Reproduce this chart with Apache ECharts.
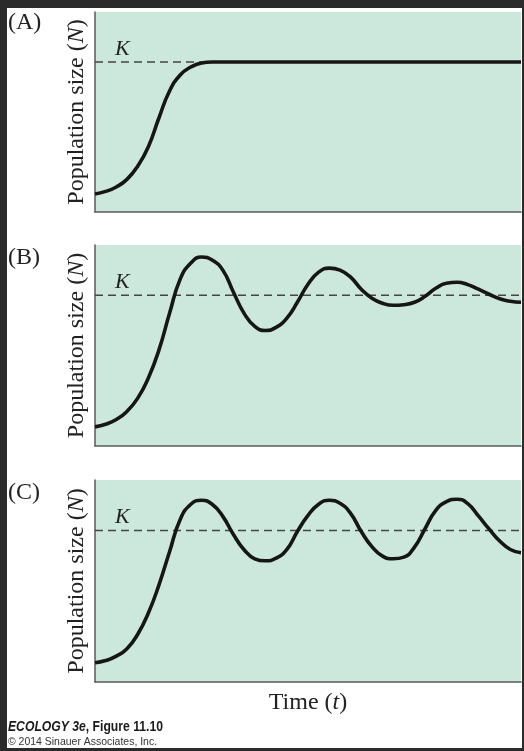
<!DOCTYPE html>
<html>
<head>
<meta charset="utf-8">
<script src="https://cdn.jsdelivr.net/npm/echarts@6/dist/echarts.min.js"></script>
<style>
  html, body { margin: 0; padding: 0; background: #2b2b2b; }
  #frame { position: absolute; left: 0; top: 0; width: 524px; height: 751px; background: #2b2b2b; }
  #chart { position: absolute; left: 7px; top: 8px; width: 515px; height: 740px; background: #fff; }
</style>
</head>
<body>
<div id="frame"><div id="chart"></div></div>
<script>
// carrying capacity
var kValue = 75;

// time steps (0 = left axis, 100 = right edge)
var times = [0, 2.5, 5, 7.5, 10, 12.5, 15, 17.5, 20, 22.5, 25, 27.5, 30, 32.5, 35, 37.5, 40, 42.5, 45, 47.5,
  50, 52.5, 55, 57.5, 60, 62.5, 65, 67.5, 70, 72.5, 75, 77.5, 80, 82.5, 85, 87.5, 90, 92.5, 95, 97.5, 100];

// (A) logistic growth
var popA = [9, 10.3, 12.5, 16.3, 22.8, 32.5, 47, 60.5, 68.5, 72.5, 74.5, 75, 75, 75, 75, 75, 75, 75, 75, 75,
  75, 75, 75, 75, 75, 75, 75, 75, 75, 75, 75, 75, 75, 75, 75, 75, 75, 75, 75, 75, 75];

// (B) damped oscillations
var popB = [9.5, 10.8, 13.2, 17.2, 23.7, 33.7, 47.7, 66, 83, 91, 94, 92.5, 87.5, 76.5, 66, 59.5, 57.5, 59, 63.5, 71.5,
  80.5, 86.5, 88.5, 87.5, 84, 78, 73.5, 71, 70, 70.3, 71.5, 74.5, 78.5, 81, 81.5, 80.3, 78, 75.5, 73.3, 72, 71.5];

// (C) stable limit cycle
var popC = [9.5, 10.6, 12.8, 16.5, 23.5, 34, 48, 64.5, 80.5, 88, 90, 88, 82, 73, 65.5, 61, 60, 61.3, 65.5, 74.5,
  82.5, 88, 90, 88.5, 83.5, 74.5, 67, 62.3, 61, 61.8, 66.8, 76, 85, 89.3, 90.5, 88.3, 82.2, 75.8, 69.8, 65.6, 64];

var panelLabels = ['(A)', '(B)', '(C)'];
var yName = 'Population size ({i|N})';
var xName = 'Time ({i|t})';

var chart = echarts.init(document.getElementById('chart'));

var serif = '"Liberation Serif", "DejaVu Serif", serif';
var sans = '"Liberation Sans", Arial, sans-serif';
var green = '#cce8dc';
var axisColor = '#5a5a5a';

var grids = [
  { left: 88, top: 4, width: 426, height: 200 },
  { left: 88, top: 237, width: 426, height: 201 },
  { left: 88, top: 472, width: 426, height: 202 }
];

function zip(t, n) {
  return t.map(function (v, i) { return [v, n[i]]; });
}

var curves = [zip(times, popA), zip(times, popB), zip(times, popC)];

var option = {
  animation: false,
  backgroundColor: '#fff',
  grid: grids.map(function (g) {
    return Object.assign({ show: true, backgroundColor: green, borderWidth: 0 }, g);
  }),
  xAxis: grids.map(function (g, i) {
    return {
      type: 'value', gridIndex: i, min: 0, max: 100,
      axisLine: { show: true, lineStyle: { color: axisColor, width: 1.5 } },
      axisTick: { show: false }, axisLabel: { show: false }, splitLine: { show: false },
      name: i === 2 ? xName : '',
      nameLocation: 'middle', nameGap: 9,
      nameTextStyle: {
        fontFamily: serif, fontSize: 24, color: '#222', verticalAlign: 'top',
        rich: { i: { fontFamily: serif, fontSize: 24, fontStyle: 'italic', color: '#222' } }
      }
    };
  }),
  yAxis: grids.map(function (g, i) {
    return {
      type: 'value', gridIndex: i, min: 0, max: 100,
      axisLine: { show: true, lineStyle: { color: axisColor, width: 1.5 } },
      axisTick: { show: false }, axisLabel: { show: false }, splitLine: { show: false },
      name: yName, nameLocation: 'middle', nameGap: 6, nameRotate: 90,
      nameTextStyle: {
        fontFamily: serif, fontSize: 24, color: '#222',
        rich: { i: { fontFamily: serif, fontSize: 24, fontStyle: 'italic', color: '#222' } }
      }
    };
  }),
  series: [],
  graphic: []
};

curves.forEach(function (data, i) {
  // dashed carrying-capacity line with its K label
  option.series.push({
    type: 'line', xAxisIndex: i, yAxisIndex: i, z: 1,
    symbol: 'circle', symbolSize: 0, showSymbol: true, silent: true,
    itemStyle: { color: 'rgba(0,0,0,0)' },
    lineStyle: { color: '#444', width: 1.6, type: [8, 5] },
    data: [
      { value: [0, kValue], label: {
          show: true, formatter: 'K', position: 'right', offset: [15, -13],
          fontFamily: serif, fontStyle: 'italic', fontSize: 22, color: '#222'
        } },
      [100, kValue]
    ]
  });
  option.series.push({
    type: 'line', xAxisIndex: i, yAxisIndex: i, z: 3,
    symbol: 'none', smooth: 0.5, silent: true,
    lineStyle: { color: '#161616', width: 3.6 },
    data: data
  });
});

var labelTops = [3, 238, 473];
panelLabels.forEach(function (txt, i) {
  option.graphic.push({
    type: 'text', left: 1, top: labelTops[i],
    style: { text: txt, font: '24px ' + serif, fill: '#222' }
  });
});

option.graphic.push({
  type: 'text', x: 1, y: 712, scaleX: 0.87,
  style: {
    text: '{a|ECOLOGY 3e}{b|, Figure 11.10}', verticalAlign: 'top',
    rich: {
      a: { fontFamily: sans, fontSize: 14, fontWeight: 'bold', fontStyle: 'italic', fill: '#1a1a1a' },
      b: { fontFamily: sans, fontSize: 14, fontWeight: 'bold', fill: '#1a1a1a' }
    }
  }
});
option.graphic.push({
  type: 'text', x: 1, y: 728, scaleX: 0.91,
  style: { text: '\u00a9 2014 Sinauer Associates, Inc.', font: '11.5px ' + sans, fill: '#333', verticalAlign: 'top' }
});

chart.setOption(option);
</script>
</body>
</html>
